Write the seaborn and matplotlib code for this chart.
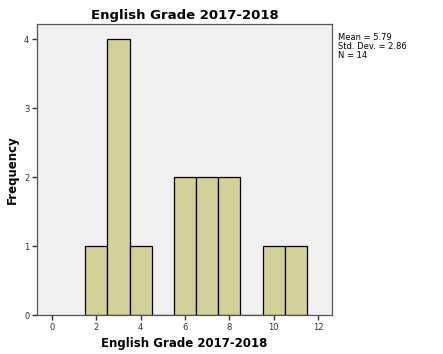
import matplotlib
matplotlib.use("Agg")
import matplotlib.pyplot as plt
import seaborn as sns
import numpy as np

# grades, one entry per student
grades = [2, 3, 3, 3, 3, 4, 6, 6, 7, 7, 8, 8, 10, 11]
x_ticks = [0, 2, 4, 6, 8, 10, 12]
y_ticks = [0, 1, 2, 3, 4]
title = "English Grade 2017-2018"

sns.set_style("white")
plt.rcParams["font.family"] = ["DejaVu Sans"]
plt.rcParams["text.color"] = "black"
plt.rcParams["axes.labelcolor"] = "black"
plt.rcParams["xtick.color"] = "#333333"
plt.rcParams["ytick.color"] = "#333333"

fig = plt.figure(figsize=(4.43, 3.54), dpi=100)
ax = fig.add_axes([0.0835, 0.110, 0.666, 0.822])
ax.set_facecolor("#f0f0f0")

sns.histplot(x=grades, binwidth=1, binrange=(1.5, 11.5), color="#d4d09a",
             edgecolor="black", linewidth=0.9, alpha=1, ax=ax)

mean = np.mean(grades)
sd = np.std(grades, ddof=1)
ax.text(1.02, 0.97, f"Mean = {mean:.2f}\nStd. Dev. = {sd:.2f}\nN = {len(grades)}",
        transform=ax.transAxes, fontsize=6, va="top", ha="left", linespacing=1.0)

ax.set_xlim(-0.68, 12.63)
ax.set_ylim(0, 4.22)
ax.set_xticks(x_ticks)
ax.set_yticks(y_ticks)
ax.tick_params(axis="both", labelsize=6, length=3.5, width=1.0, direction="out",
               bottom=True, left=True, pad=2, labelcolor="#333333")
for s in ax.spines.values():
    s.set_color("#555555")
    s.set_linewidth(0.9)

ax.set_title(title, fontsize=9.5, fontweight="bold", pad=4, color="black")
ax.set_xlabel(title, fontsize=8.5, fontweight="bold", labelpad=4)
ax.set_ylabel("Frequency", fontsize=8.5, fontweight="bold", labelpad=4)

fig.savefig("out.png", dpi=100)
